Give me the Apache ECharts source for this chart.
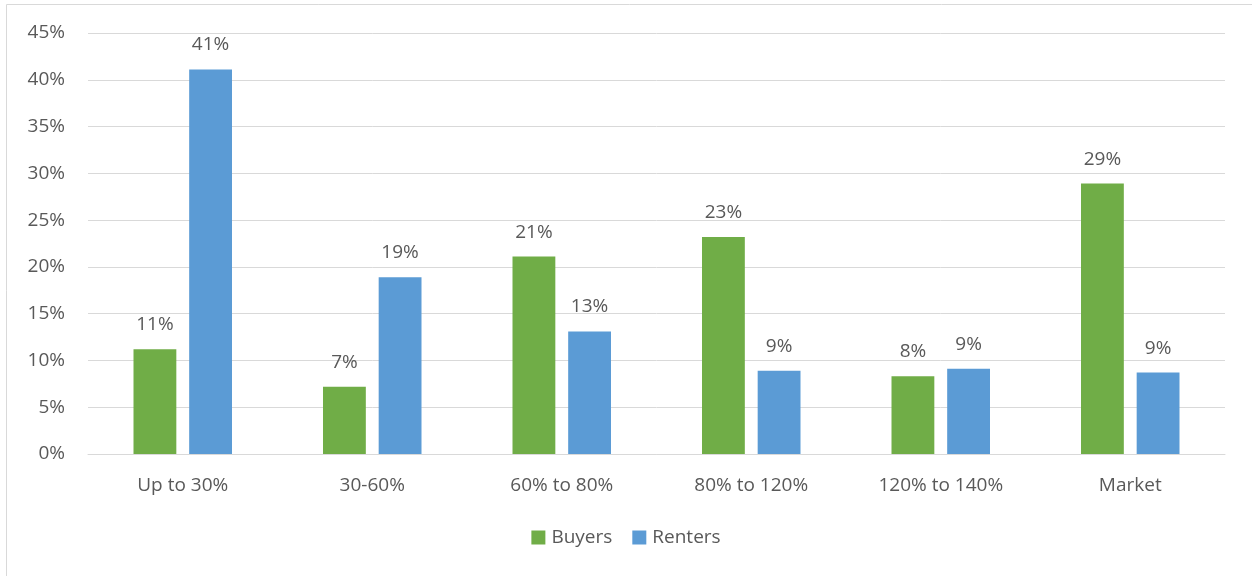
<!DOCTYPE html>
<html><head><meta charset="utf-8">
<script src="https://cdn.jsdelivr.net/npm/echarts@6/dist/echarts.min.js"></script>
<style>html,body{margin:0;padding:0;background:#fff}#c{width:1252px;height:576px}</style>
</head><body><div id="c"></div>
<script>
const categories = ["Up to 30%", "30-60%", "60% to 80%", "80% to 120%", "120% to 140%", "Market"];
const buyers = [11.2, 7.2, 21.1, 23.2, 8.3, 28.9];
const renters = [41.1, 18.9, 13.1, 8.9, 9.1, 8.7];
const yTicks = [0, 5, 10, 15, 20, 25, 30, 35, 40, 45];

const txt = '#595959';
const font = 'Open Sans';
const fs = 19;
const chart = echarts.init(document.getElementById('c'));
const lbl = {show: true, position: 'top', distance: 15, color: txt, fontFamily: font, fontSize: fs,
  formatter: p => Math.round(p.value) + '%'};
chart.setOption({
  animation: false,
  graphic: [{type: 'rect', silent: true, shape: {x: 6.5, y: 4.5, width: 1400, height: 800},
    style: {fill: 'none', stroke: '#d9d9d9', lineWidth: 1}}],
  grid: {left: 88, right: 27, top: 33, bottom: 122, containLabel: false},
  legend: {bottom: 24, left: 'center', itemWidth: 14, itemHeight: 14, itemGap: 20,
    icon: 'rect', textStyle: {color: txt, fontFamily: font, fontSize: fs, padding: [0, 0, 0, 1]}},
  xAxis: {type: 'category', data: categories,
    axisLine: {lineStyle: {color: '#d9d9d9', width: 1}}, axisTick: {show: false},
    axisLabel: {color: txt, fontFamily: font, fontSize: fs, margin: 22}},
  yAxis: {type: 'value', min: yTicks[0], max: yTicks[yTicks.length - 1], interval: 5,
    axisLine: {show: false}, axisTick: {show: false},
    axisLabel: {color: txt, fontFamily: font, fontSize: fs, margin: 23, formatter: v => v + '%'},
    splitLine: {lineStyle: {color: '#d9d9d9', width: 1}}},
  series: [
    {name: 'Buyers', type: 'bar', data: buyers, barWidth: '22.6%', barGap: '30%',
      itemStyle: {color: '#70AD47'}, label: lbl},
    {name: 'Renters', type: 'bar', data: renters, barWidth: '22.6%',
      itemStyle: {color: '#5B9BD5'}, label: lbl}
  ]
});
</script></body></html>
